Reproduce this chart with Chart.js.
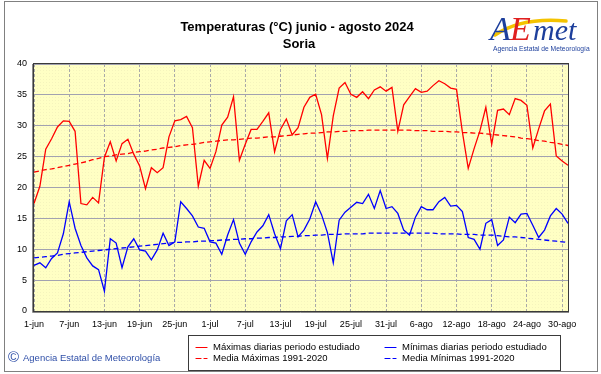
<!DOCTYPE html>
<html>
<head>
<meta charset="utf-8">
<script src="https://cdn.jsdelivr.net/npm/chart.js@4.4.1/dist/chart.umd.min.js"></script>
<style>
  html, body { margin: 0; padding: 0; background: #fff; overflow: hidden; }
</style>
</head>
<body>
<canvas id="tempChart" width="601" height="374"></canvas>
<script>
// months of the period (name, days)
var months = [['jun', 30], ['jul', 31], ['ago', 31]];
// labels shown under the x axis
var tickLabels = ['1-jun', '7-jun', '13-jun', '19-jun', '25-jun', '1-jul', '7-jul', '13-jul',
  '19-jul', '25-jul', '31-jul', '6-ago', '12-ago', '18-ago', '24-ago', '30-ago'];

// daily maxima 2024 (°C)
var maxDaily = [17.4, 20.2, 26.2, 27.9, 29.8, 30.8, 30.7, 29.1, 17.4, 17.2,
  18.4, 17.5, 24.9, 27.4, 24.3, 27.1, 27.8, 25.4, 23.5, 19.8,
  23.2, 22.4, 23.2, 28.2, 30.8, 31.0, 31.5, 29.7, 20.2, 24.4,
  23.1, 25.8, 30.1, 31.4, 34.7, 24.4, 27.0, 29.4, 29.4, 30.7,
  32.1, 25.8, 29.4, 31.1, 28.5, 29.7, 33.0, 34.6, 35.1, 31.8,
  24.7, 31.6, 36.1, 37.0, 35.1, 34.6, 35.5, 34.4, 35.8, 36.3,
  35.6, 36.2, 29.1, 33.4, 34.7, 36.0, 35.4, 35.6, 36.5, 37.3,
  36.8, 36.1, 35.9, 29.0, 23.1, 26.3, 29.2, 33.0, 27.0, 32.5,
  32.7, 31.8, 34.4, 34.1, 33.3, 26.4, 29.5, 32.4, 33.5, 25.1,
  24.3, 23.6];

// daily minima 2024 (°C)
var minDaily = [7.4, 7.8, 7.0, 8.5, 9.4, 12.5, 17.7, 13.4, 10.6, 8.6,
  7.3, 6.7, 3.2, 11.7, 11.0, 7.0, 10.4, 11.7, 9.9, 9.7,
  8.3, 9.9, 12.6, 10.6, 11.2, 17.7, 16.6, 15.4, 13.6, 13.4,
  11.2, 11.0, 9.2, 12.3, 14.8, 11.0, 9.2, 11.2, 12.8, 13.8,
  15.6, 12.5, 10.1, 14.6, 15.6, 12.0, 13.1, 14.9, 17.7, 15.6,
  12.7, 7.8, 14.7, 16.0, 16.8, 17.6, 17.4, 18.9, 16.6, 19.5,
  16.6, 16.9, 15.8, 13.1, 12.3, 15.2, 16.9, 16.4, 16.4, 17.7,
  18.4, 17.0, 17.1, 16.1, 11.9, 11.6, 10.0, 14.2, 14.8, 10.6,
  11.5, 15.2, 14.3, 15.7, 15.8, 13.9, 11.9, 13.1, 15.4, 16.6,
  15.7, 14.2];

// normals 1991-2020 (°C)
var maxNormal = [22.5, 22.7, 22.9, 23.0, 23.2, 23.4, 23.6, 23.8, 24.0, 24.2,
  24.5, 24.7, 25.0, 25.1, 25.3, 25.4, 25.5, 25.7, 25.8, 25.9,
  26.1, 26.2, 26.4, 26.5, 26.6, 26.8, 26.9, 27.0, 27.1, 27.3,
  27.4, 27.5, 27.6, 27.7, 27.7, 27.8, 27.9, 28.0, 28.0, 28.1,
  28.2, 28.2, 28.3, 28.4, 28.5, 28.6, 28.7, 28.8, 28.8, 28.9,
  29.0, 29.0, 29.1, 29.1, 29.2, 29.2, 29.2, 29.3, 29.3, 29.3,
  29.3, 29.3, 29.3, 29.3, 29.3, 29.2, 29.2, 29.2, 29.1, 29.1,
  29.1, 29.0, 29.0, 28.9, 28.9, 28.8, 28.8, 28.7, 28.6, 28.5,
  28.4, 28.3, 28.2, 28.0, 27.9, 27.8, 27.6, 27.5, 27.3, 27.2,
  27.0, 26.8];

var minNormal = [8.6, 8.7, 8.8, 8.9, 9.0, 9.2, 9.3, 9.4, 9.5, 9.6,
  9.7, 9.8, 9.9, 10.0, 10.1, 10.2, 10.3, 10.4, 10.5, 10.6,
  10.7, 10.8, 10.9, 11.0, 11.1, 11.1, 11.2, 11.2, 11.3, 11.3,
  11.4, 11.4, 11.5, 11.5, 11.6, 11.6, 11.7, 11.7, 11.8, 11.8,
  11.9, 11.9, 12.0, 12.0, 12.1, 12.1, 12.2, 12.2, 12.3, 12.3,
  12.4, 12.4, 12.4, 12.5, 12.5, 12.5, 12.5, 12.6, 12.6, 12.6,
  12.6, 12.6, 12.6, 12.6, 12.6, 12.6, 12.6, 12.6, 12.6, 12.5,
  12.5, 12.5, 12.5, 12.4, 12.4, 12.4, 12.3, 12.3, 12.3, 12.2,
  12.1, 12.0, 12.0, 11.9, 11.8, 11.7, 11.6, 11.5, 11.4, 11.3,
  11.2, 11.1];

var days = [];
months.forEach(function(m) {
  for (var d = 1; d <= m[1]; d++) days.push(d + '-' + m[0]);
});

var FONT = '"Liberation Sans", Arial, sans-serif';
Chart.defaults.font.family = FONT;
Chart.defaults.color = '#000';

function isTick(i) { return tickLabels.indexOf(days[i]) >= 0; }

var plotPattern = null;
function getPattern(ctx) {
  if (plotPattern) return plotPattern;
  var c = document.createElement('canvas');
  c.width = 3; c.height = 3;
  var p = c.getContext('2d');
  p.fillStyle = '#ffffc4';
  p.fillRect(0, 0, 3, 3);
  p.fillStyle = '#f5f4bd';
  p.fillRect(1, 1, 1, 1);
  plotPattern = ctx.createPattern(c, 'repeat');
  return plotPattern;
}

var decor = {
  id: 'decor',
  beforeDraw: function(chart) {
    var ctx = chart.ctx, a = chart.chartArea;
    ctx.save();
    ctx.fillStyle = '#fff';
    ctx.fillRect(0, 0, chart.width, chart.height);
    ctx.fillStyle = getPattern(ctx);
    ctx.fillRect(a.left, a.top, a.right - a.left, a.bottom - a.top);
    ctx.restore();
  },
  afterDraw: function(chart) {
    var ctx = chart.ctx, a = chart.chartArea;
    ctx.save();
    // plot frame
    ctx.strokeStyle = '#3a3a3a';
    ctx.lineWidth = 1;
    ctx.strokeRect(a.left - 0.5, a.top - 0.5, a.right - a.left + 1, a.bottom - a.top + 1);
    ctx.strokeStyle = '#8a8a8a';
    ctx.beginPath();
    ctx.moveTo(a.left - 1.5, a.top);
    ctx.lineTo(a.left - 1.5, a.bottom + 1.5);
    ctx.lineTo(a.right + 1, a.bottom + 1.5);
    ctx.stroke();

    // outer frame
    ctx.strokeStyle = '#808080';
    ctx.strokeRect(4.5, 1.5, 593, 370);

    // title
    ctx.fillStyle = '#000';
    ctx.textAlign = 'center';
    ctx.textBaseline = 'middle';
    ctx.font = 'bold 13px ' + FONT;
    ctx.fillText('Temperaturas (°C) junio - agosto 2024', 297, 27);
    ctx.fillText('Soria', 299, 44);

    // logo
    ctx.strokeStyle = '#f4c300';
    ctx.lineWidth = 3.5;
    ctx.lineCap = 'round';
    ctx.beginPath();
    ctx.moveTo(495, 35);
    ctx.quadraticCurveTo(522, 17, 566, 21);
    ctx.stroke();
    ctx.textAlign = 'left';
    ctx.textBaseline = 'alphabetic';
    ctx.font = 'italic 34px "Liberation Serif", serif';
    ctx.fillStyle = '#1d3f9c';
    ctx.fillText('A', 490, 40);
    ctx.fillStyle = '#e02020';
    ctx.fillText('E', 510, 40);
    ctx.fillStyle = '#1d3f9c';
    ctx.font = 'italic 30px "Liberation Serif", serif';
    ctx.fillText('met', 533, 40);
    ctx.font = '6.7px ' + FONT;
    ctx.fillStyle = '#1d3f9c';
    ctx.textBaseline = 'middle';
    ctx.fillText('Agencia Estatal de Meteorología', 493, 49);

    // copyright
    ctx.fillStyle = '#2f4fa8';
    ctx.font = '15px ' + FONT;
    ctx.fillText('©', 8, 358);
    ctx.font = '9.5px ' + FONT;
    ctx.fillText('Agencia Estatal de Meteorología', 23, 358);

    // legend
    var lx = 188, ly = 335, lw = 372, lh = 35;
    ctx.fillStyle = '#fff';
    ctx.fillRect(lx, ly, lw, lh);
    ctx.strokeStyle = '#3a3a3a';
    ctx.lineWidth = 1;
    ctx.strokeRect(lx + 0.5, ly + 0.5, lw, lh);
    var cols = [196, 385], rows = [347, 358];
    chart.data.datasets.forEach(function(ds, i) {
      var x = cols[i % 2], y = rows[Math.floor(i / 2)];
      ctx.strokeStyle = ds.borderColor;
      ctx.lineWidth = 1.2;
      ctx.setLineDash(ds.borderDash || []);
      ctx.beginPath();
      ctx.moveTo(x, y + 0.5);
      ctx.lineTo(x + 11, y + 0.5);
      ctx.stroke();
      ctx.setLineDash([]);
      ctx.fillStyle = '#000';
      ctx.font = '9.5px ' + FONT;
      ctx.fillText(ds.label, x + 17, y);
    });
    ctx.restore();
  }
};

var chart = new Chart(document.getElementById('tempChart').getContext('2d'), {
  type: 'line',
  data: {
    labels: days,
    datasets: [{
      label: 'Máximas diarias periodo estudiado',
      data: maxDaily,
      borderColor: '#ff0000',
      borderWidth: 1.3
    }, {
      label: 'Mínimas diarias periodo estudiado',
      data: minDaily,
      borderColor: '#0000ff',
      borderWidth: 1.3
    }, {
      label: 'Media Máximas 1991-2020',
      data: maxNormal,
      borderColor: '#ff0000',
      borderWidth: 1.3,
      borderDash: [5, 3]
    }, {
      label: 'Media Mínimas 1991-2020',
      data: minNormal,
      borderColor: '#0000ff',
      borderWidth: 1.3,
      borderDash: [5, 3]
    }]
  },
  options: {
    responsive: false,
    animation: false,
    devicePixelRatio: 1,
    elements: { point: { radius: 0 }, line: { tension: 0, fill: false } },
    layout: { padding: { left: 0, right: 33, top: 64, bottom: 43 } },
    plugins: {
      legend: { display: false },
      title: { display: false },
      tooltip: { enabled: false }
    },
    scales: {
      x: {
        type: 'category',
        offset: false,
        afterFit: function(scale) { scale.height = 20; },
        grid: {
          drawTicks: false,
          lineWidth: 1,
          color: function(c) { return isTick(c.index) ? '#a9a9a9' : 'rgba(0,0,0,0)'; }
        },
        border: { display: false, dash: [3, 2] },
        ticks: {
          autoSkip: false,
          maxRotation: 0,
          minRotation: 0,
          padding: 8,
          font: { size: 9 },
          callback: function(val, i) { return isTick(i) ? days[i] : ''; }
        }
      },
      y: {
        min: 0,
        max: 40,
        afterFit: function(scale) { scale.width = 34; },
        grid: { drawTicks: false, color: '#a2a2b0', lineWidth: 1 },
        border: { display: false },
        ticks: { stepSize: 5, padding: 7, font: { size: 9 } }
      }
    }
  },
  plugins: [decor]
});
</script>
</body>
</html>
